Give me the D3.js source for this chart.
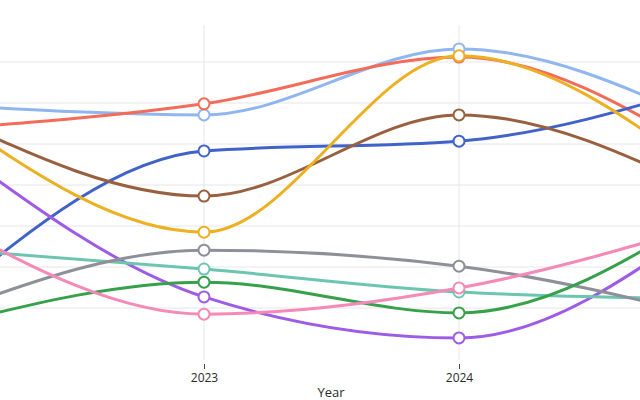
<!DOCTYPE html>
<html>
<head>
<meta charset="utf-8">
<script src="https://cdn.jsdelivr.net/npm/d3@7"></script>
<style>
  body { margin: 0; background: #fff; }
  svg { display: block; font-family: "Open Sans", sans-serif; }
</style>
</head>
<body>
<svg id="chart" width="640" height="400"></svg>
<script>
// years and series (chart is a zoomed-in view, 2022 and 2025 fall off the edges)
var years = [2022, 2023, 2024, 2025];
var yTicks = [10, 20, 30, 40, 50, 60, 70];
var xTicks = [2023, 2024];

var seriesNames = ["A", "B", "C", "D", "E", "F", "G", "H", "I", "J"];
var seriesColors = ["#8fb6ee", "#f36b59", "#3f63c8", "#98603f", "#ecb022",
                    "#9d5be6", "#6cc5b0", "#8e9099", "#36a04a", "#f58ab8"];
var valuesA = [59.5, 57.1, 73.2, 54.2];
var valuesB = [53.7, 59.8, 71.2, 46.3];
var valuesC = [12.9, 48.3, 50.7, 64.8];
var valuesD = [56.7, 37.3, 57.1, 37.2];
var valuesE = [57.0, 28.5, 71.5, 41.0];
var valuesF = [49.8, 12.7, 2.7, 32.3];
var valuesG = [24.3, 19.5, 13.9, 12.2];
var valuesH = [9.2, 24.1, 20.2, 7.6];
var valuesI = [6.0, 16.3, 8.8, 34.6];
var valuesJ = [30.7, 8.5, 14.9, 30.9];
var allValues = [valuesA, valuesB, valuesC, valuesD, valuesE,
                 valuesF, valuesG, valuesH, valuesI, valuesJ];

var plotTop = 25, plotBottom = 360;

var svg = d3.select("#chart");

var x = d3.scaleLinear()
    .domain([2023, 2024])
    .range([204, 459]);

var y = d3.scaleLinear()
    .domain([0, 70])
    .range([349, 62]);

// grid
svg.append("g")
    .selectAll("line")
    .data(yTicks)
  .enter().append("line")
    .attr("x1", 0).attr("x2", 640)
    .attr("y1", function(d) { return y(d); })
    .attr("y2", function(d) { return y(d); })
    .attr("stroke", "#e6e6e6")
    .attr("stroke-width", 1);

svg.append("g")
    .selectAll("line")
    .data(xTicks)
  .enter().append("line")
    .attr("x1", function(d) { return x(d); })
    .attr("x2", function(d) { return x(d); })
    .attr("y1", plotTop).attr("y2", plotBottom)
    .attr("stroke", "#e6e6e6")
    .attr("stroke-width", 1);

// x axis
var xAxis = d3.axisBottom(x)
    .tickValues(xTicks)
    .tickFormat(d3.format("d"))
    .tickSize(5)
    .tickPadding(4);

var gx = svg.append("g")
    .attr("transform", "translate(0," + (plotBottom + 4) + ")")
    .call(xAxis);
gx.select(".domain").remove();
gx.selectAll(".tick line").attr("stroke", "#444");
gx.selectAll(".tick text")
    .attr("fill", "#2a2a2a")
    .attr("font-size", "12px")
    .attr("font-family", "Open Sans, sans-serif");

svg.append("text")
    .attr("x", 331)
    .attr("y", 397)
    .attr("text-anchor", "middle")
    .attr("font-size", "13px")
    .attr("fill", "#2a2a2a")
    .text("Year");

// lines
var line = d3.line()
    .x(function(d) { return x(d.year); })
    .y(function(d) { return y(d.value); })
    .curve(d3.curveMonotoneX);

var series = seriesNames.map(function(name, i) {
  return {
    name: name,
    color: seriesColors[i],
    points: years.map(function(yr, j) { return {year: yr, value: allValues[i][j]}; })
  };
});

var groups = svg.selectAll(".series")
    .data(series)
  .enter().append("g")
    .attr("class", "series");

groups.append("path")
    .attr("d", function(d) { return line(d.points); })
    .attr("fill", "none")
    .attr("stroke", function(d) { return d.color; })
    .attr("stroke-width", 3);

groups.selectAll("circle")
    .data(function(d) { return d.points.map(function(p) { return {p: p, color: d.color}; }); })
  .enter().append("circle")
    .attr("cx", function(d) { return x(d.p.year); })
    .attr("cy", function(d) { return y(d.p.value); })
    .attr("r", 5.5)
    .attr("fill", "#fff")
    .attr("stroke", function(d) { return d.color; })
    .attr("stroke-width", 2);
</script>
</body>
</html>
